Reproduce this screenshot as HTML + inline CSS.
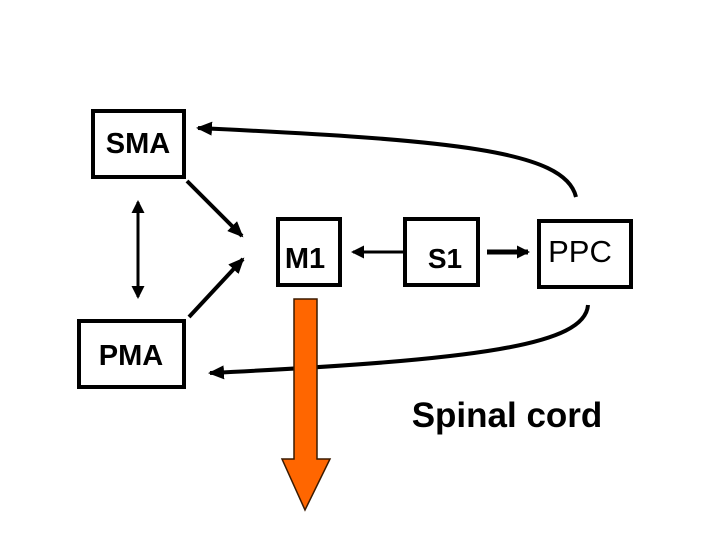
<!DOCTYPE html>
<html><head><style>
body{margin:0;background:#fff;width:720px;height:540px;overflow:hidden}
svg text{font-family:"Liberation Sans",sans-serif;font-weight:bold}
svg text.n{font-weight:normal}
</style></head><body>
<svg width="720" height="540" viewBox="0 0 720 540">
<defs>
<marker id="a" markerWidth="16" markerHeight="14" refX="14" refY="7" orient="auto" markerUnits="userSpaceOnUse"><path d="M0,0 L16,7 L0,14 z" fill="#000"/></marker>
<marker id="s" markerWidth="13" markerHeight="13" refX="11" refY="6.5" orient="auto" markerUnits="userSpaceOnUse"><path d="M0,0 L13,6.5 L0,13 z" fill="#000"/></marker>
<marker id="b" markerWidth="13" markerHeight="13" refX="2" refY="6.5" orient="auto" markerUnits="userSpaceOnUse"><path d="M13,0 L0,6.5 L13,13 z" fill="#000"/></marker>
</defs>
<g fill="#fff" stroke="#000" stroke-width="4">
<rect x="93" y="111" width="91" height="66"/>
<rect x="79" y="321" width="105" height="66"/>
<rect x="278" y="219" width="62" height="66"/>
<rect x="405" y="219" width="73" height="66"/>
<rect x="539" y="221" width="92" height="66"/>
</g>
<g font-size="29" text-anchor="middle" fill="#000">
<text x="138" y="153">SMA</text>
<text x="131" y="365">PMA</text>
<text x="305" y="268">M1</text>
<text x="445" y="268" font-size="28">S1</text>
<text x="580" y="262" font-size="31" class="n">PPC</text>
<text x="507" y="427" font-size="35">Spinal cord</text>
</g>
<g stroke="#000" fill="none" stroke-linecap="butt">
<path d="M187,181 L242,236" stroke-width="4" marker-end="url(#a)"/>
<path d="M189,317 L243,259" stroke-width="4" marker-end="url(#a)"/>
<path d="M138,202 L138,297" stroke-width="3" marker-start="url(#b)" marker-end="url(#s)"/>
<path d="M403,252 L353,252" stroke-width="3" marker-end="url(#s)"/>
<path d="M487,252 L528,252" stroke-width="5" marker-end="url(#s)"/>
<path d="M576,197 C565,150 450,140 198,128" stroke-width="4" marker-end="url(#a)"/>
<path d="M588,305 C585,345 480,360 210,373" stroke-width="4" marker-end="url(#a)"/>
</g>
<path d="M294,299 L317,299 L317,459 L330,459 L305,510 L282,459 L294,459 Z" fill="#ff6600" stroke="#3a1a00" stroke-width="1.5"/>
</svg>
</body></html>
